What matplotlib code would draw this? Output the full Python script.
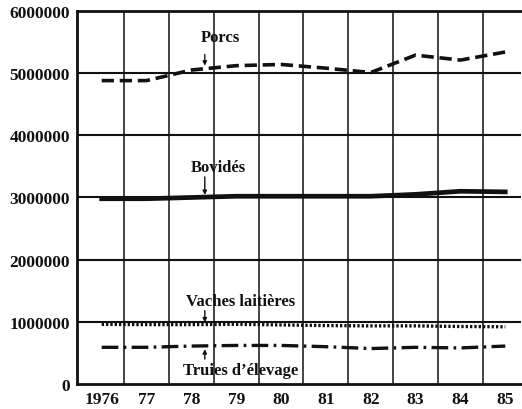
import matplotlib
matplotlib.use("Agg")
import matplotlib.pyplot as plt

years = [1976, 1977, 1978, 1979, 1980, 1981, 1982, 1983, 1984, 1985]
year_labels = ["1976", "77", "78", "79", "80", "81", "82", "83", "84", "85"]

porcs   = [4880000, 4880000, 5050000, 5120000, 5140000, 5080000, 5010000, 5290000, 5210000, 5340000]
bovides = [2980000, 2980000, 3000000, 3020000, 3020000, 3020000, 3020000, 3050000, 3100000, 3090000]
vaches  = [960000, 955000, 955000, 960000, 950000, 940000, 935000, 935000, 925000, 920000]
truies  = [590000, 590000, 610000, 620000, 620000, 600000, 570000, 590000, 580000, 610000]

y_ticks = [0, 1000000, 2000000, 3000000, 4000000, 5000000, 6000000]

SERIF = "Liberation Serif"
INK = "#111111"

fig = plt.figure(figsize=(5.22, 4.10), dpi=100)
ax = fig.add_axes([0.1475, 0.061, 0.8505, 0.9098])

# grid lines sit between the years
for xg in [y + 0.5 for y in years[:-1]]:
    ax.axvline(xg, color=INK, lw=1.1, zorder=1)
for yg in y_ticks[1:-1]:
    ax.axhline(yg, color=INK, lw=1.5, zorder=1)

ax.plot(years, porcs, color=INK, lw=2.6, ls=(0, (3.4, 1.6)), zorder=3)
ax.plot(years, bovides, color=INK, lw=3.4, zorder=3)
ax.plot(years, vaches, color=INK, lw=2.4, ls=(0, (0.7, 0.6)), zorder=3)
ax.plot(years, truies, color=INK, lw=2.4, ls=(0, (5, 1.6, 0.8, 1.6)), zorder=3)

ax.set_xlim(1975.45, 1985.35)
ax.set_ylim(0, 6000000)
ax.set_xticks(years)
ax.set_xticklabels(year_labels)
ax.set_yticks(y_ticks)
ax.set_yticklabels([str(v) for v in y_ticks])
ax.tick_params(length=0, pad=5)
for lbl in ax.get_xticklabels() + ax.get_yticklabels():
    lbl.set_fontfamily(SERIF)
    lbl.set_fontweight("bold")
    lbl.set_fontsize(12.5)
    lbl.set_color(INK)

for side in ["left", "bottom", "top"]:
    ax.spines[side].set_linewidth(2)
    ax.spines[side].set_color(INK)
ax.spines["right"].set_visible(False)

# labels with small arrows
arrow_x = 1978.3
notes = [
    ("Porcs", 1978.65, 5580000, 5300000, 5120000),
    ("Bovidés", 1978.6, 3490000, 3330000, 3040000),
    ("Vaches laitières", 1979.1, 1340000, 1180000, 990000),
]
for txt, tx, ty, a0, a1 in notes:
    ax.text(tx, ty, txt, ha="center", va="center", fontfamily=SERIF,
            fontweight="bold", fontsize=12, color=INK)
    ax.annotate("", xy=(arrow_x, a1), xytext=(arrow_x, a0),
                arrowprops=dict(arrowstyle="-|>", lw=1, color=INK,
                                mutation_scale=6, shrinkA=0, shrinkB=0))

ax.text(1979.1, 230000, "Truies d\u2019élevage", ha="center", va="center",
        fontfamily=SERIF, fontweight="bold", fontsize=12, color=INK)
ax.annotate("", xy=(arrow_x, 560000), xytext=(arrow_x, 400000),
            arrowprops=dict(arrowstyle="-|>", lw=1, color=INK,
                            mutation_scale=6, shrinkA=0, shrinkB=0))

fig.savefig("out.png", dpi=100)
